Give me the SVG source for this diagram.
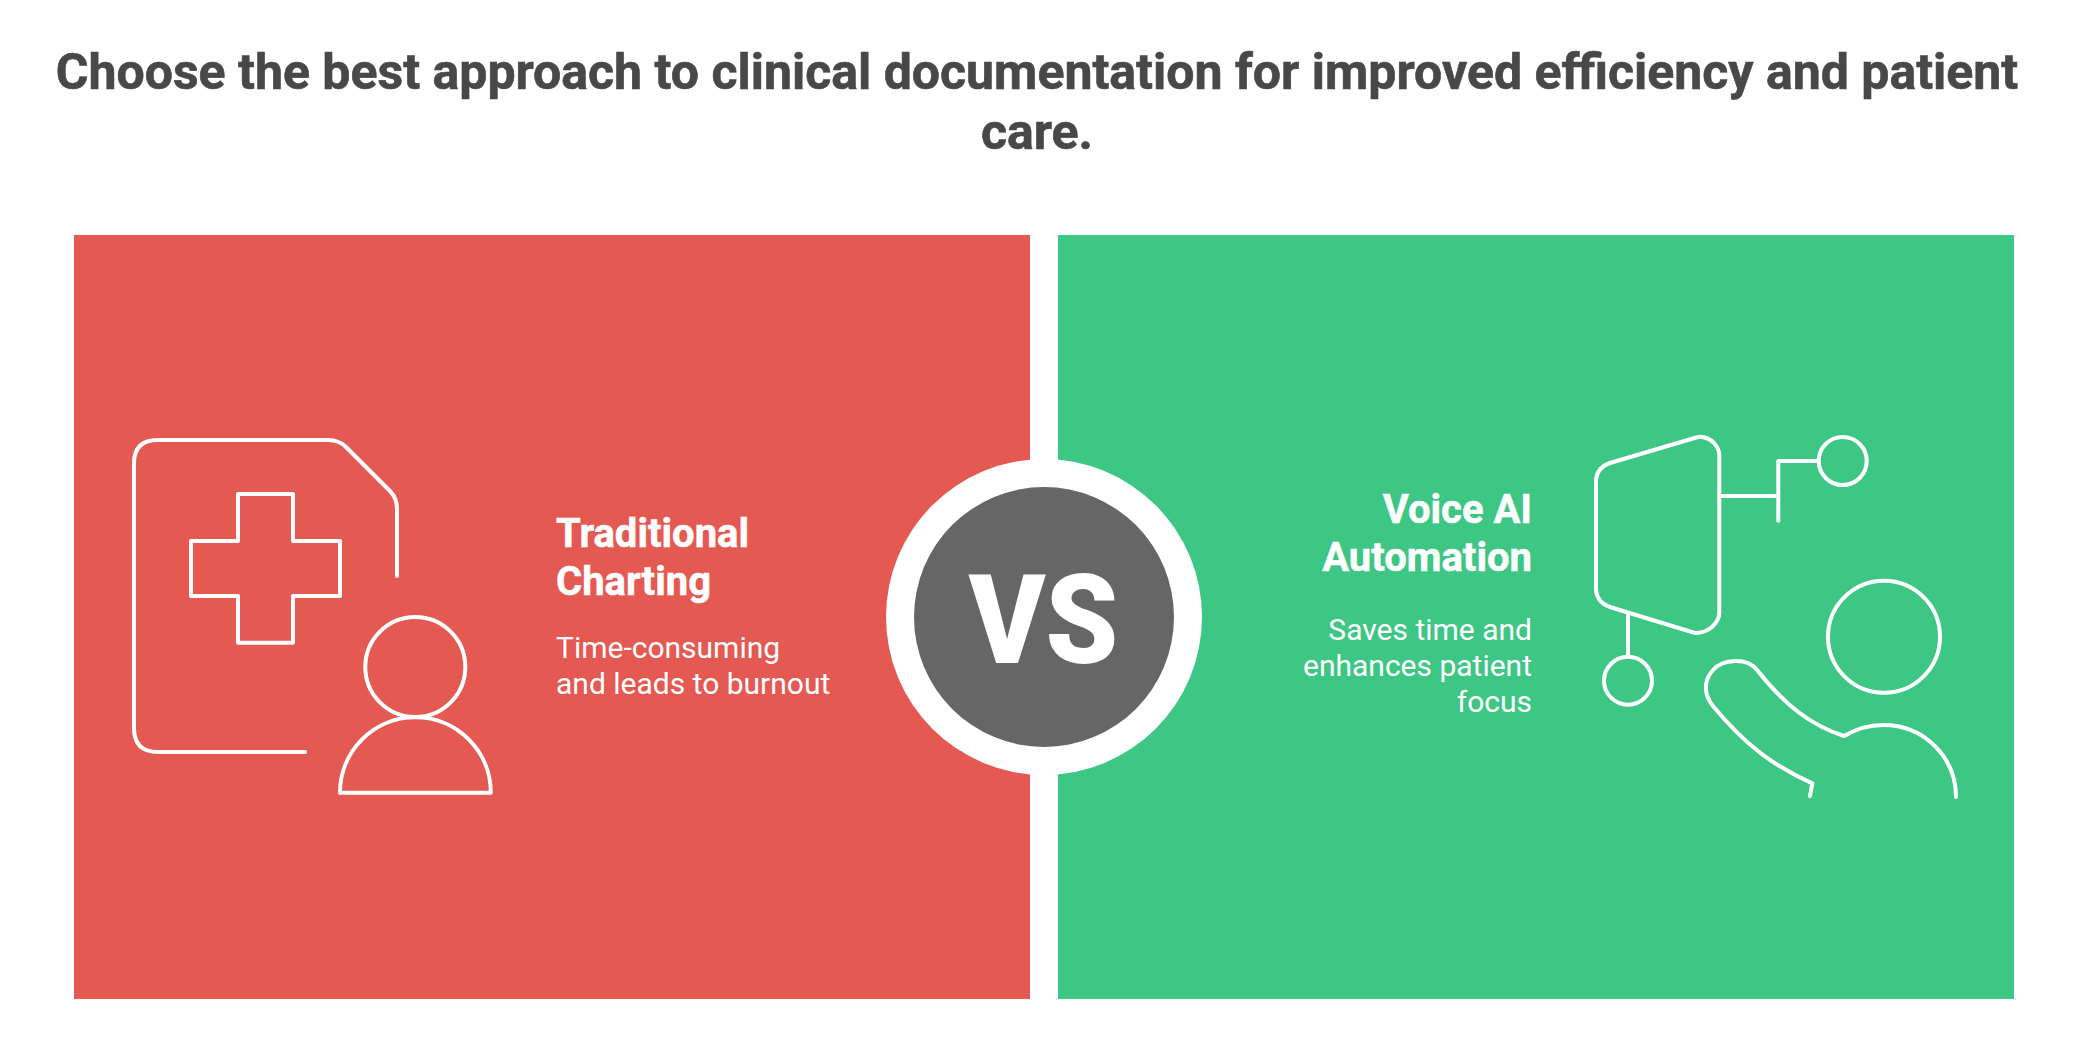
<svg xmlns="http://www.w3.org/2000/svg" width="2088" height="1037" viewBox="0 0 2088 1037">
<style>
text{font-family:Roboto,"Liberation Sans",sans-serif}
.t{font-size:50px;font-weight:700;fill:#484848;stroke:#484848;stroke-width:.6;text-anchor:middle}
.h{font-size:40px;font-weight:700;fill:#fff;stroke:#fff;stroke-width:.5}
.b{font-size:30px;font-weight:400;fill:#fff}
.e{text-anchor:end}
.i{fill:none;stroke:#fff;stroke-width:4;stroke-linecap:round;stroke-linejoin:round}
</style>
<rect width="2088" height="1037" fill="#fff"/>
<g id="title">
<text class="t" x="1037" y="89">Choose the best approach to clinical documentation for improved efficiency and patient</text>
<text class="t" x="1037" y="149">care.</text>
</g>
<g id="traditional-charting">
<rect x="74" y="235" width="956" height="764" fill="#e55953"/>
<g class="i">
<path d="M305 752H158Q134 752 134 728V463Q134 440 158 440H328Q339 440 346 447L390 491Q397 498 397 509V576"/>
<path d="M191 541H238V494H293V541H340V596H293V642.7H238V596H191Z"/>
<circle cx="415.3" cy="667" r="50"/>
<path d="M340 792.7A75.4 75.4 0 0 1 490.8 792.7Z"/>
</g>
<text class="h" x="556" y="547">Traditional</text>
<text class="h" x="556" y="595">Charting</text>
<text class="b" x="556" y="658">Time-consuming</text>
<text class="b" x="556" y="694">and leads to burnout</text>
</g>
<g id="voice-ai-automation">
<rect x="1058" y="235" width="956" height="764" fill="#3ec684"/>
<g class="i">
<path d="M1698 437Q1707 436 1714 443Q1719.3 449 1719.3 455V613Q1719.3 620 1712 627Q1705 633 1695 633L1610 607Q1596 602 1596 588V482Q1596 468 1610 463Z"/>
<path d="M1719.3 496H1778M1778.3 520.7V461H1818"/>
<circle cx="1842.7" cy="461" r="24"/>
<path d="M1628 613V656"/>
<circle cx="1628" cy="680.7" r="24"/>
<circle cx="1884" cy="636.7" r="56"/>
<path d="M1810 796L1812.3 783.3C1775 767 1745 745 1713 706C1703 694 1704 680 1713 670C1723 659 1747 657 1757 670C1785 705 1810 725 1844 736C1856 729 1870 725 1883 725C1925 725 1956 758 1956 797"/>
</g>
<text class="h e" x="1532" y="523">Voice AI</text>
<text class="h e" x="1532" y="571">Automation</text>
<text class="b e" x="1532" y="639.5">Saves time and</text>
<text class="b e" x="1532" y="675.5">enhances patient</text>
<text class="b e" x="1532" y="711.5">focus</text>
</g>
<g id="vs">
<circle cx="1044" cy="617" r="158" fill="#fff"/>
<rect x="1030" y="235" width="28" height="764" fill="#fff"/>
<circle cx="1044" cy="617" r="130" fill="#666"/>
<text transform="translate(1043.5 662.7) scale(.93 1)" font-size="125" font-weight="900" fill="#fff" text-anchor="middle">VS</text>
</g>
</svg>
